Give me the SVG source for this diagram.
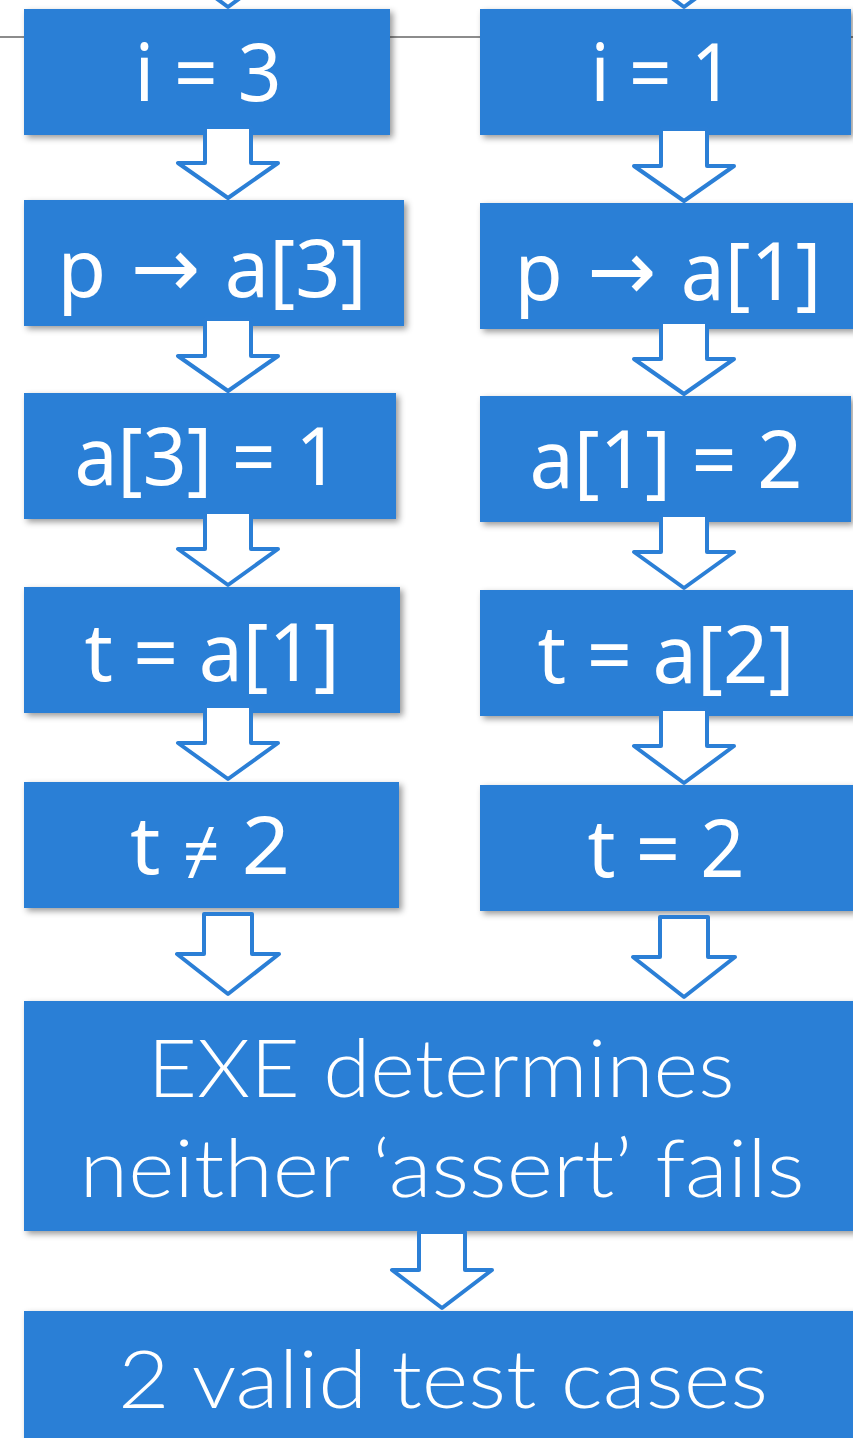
<svg xmlns="http://www.w3.org/2000/svg" width="853" height="1438" viewBox="0 0 853 1438">
  <defs>
    <filter id="shadow" x="-10%" y="-10%" width="125%" height="130%">
      <feDropShadow dx="3" dy="3" stdDeviation="3" flood-color="#000" flood-opacity="0.4"/>
    </filter>
  </defs>
  <style>
    .box { fill: #2b7fd6; filter: url(#shadow); }
    .lbl { fill: #ffffff; font-family: "Noto Sans", "Open Sans", sans-serif; font-size: 80px; text-anchor: middle; }
    .sym { font-family: "DejaVu Sans", sans-serif; font-size: 84px; }
    .neq { font-size: 62px; }
    .big { fill: #ffffff; font-family: "Lato", "Noto Sans", sans-serif; font-weight: 300; font-size: 80px; text-anchor: middle; }
    .arrow { fill: #ffffff; stroke: #2b7fd6; stroke-width: 4; stroke-linejoin: round; }
    .rule { stroke: #8c8c8c; stroke-width: 2; }
  </style>

  <rect width="853" height="1438" fill="#ffffff"/>
  <line class="rule" x1="0" y1="37" x2="853" y2="37"/>

  <!-- left column -->
  <g id="n-i3"><rect class="box" x="24" y="9" width="366" height="126"/><text class="lbl" x="208" y="101" textLength="147" lengthAdjust="spacingAndGlyphs">i = 3</text></g>
  <g id="n-p3"><rect class="box" x="24" y="200" width="380" height="126"/><text class="lbl" x="212" y="297" textLength="309" lengthAdjust="spacingAndGlyphs">p <tspan class="sym" dx="4">→</tspan><tspan dx="4"> a[3]</tspan></text></g>
  <g id="n-a3"><rect class="box" x="24" y="393" width="372" height="126"/><text class="lbl" x="207" y="485" textLength="265" lengthAdjust="spacingAndGlyphs">a[3] = 1</text></g>
  <g id="n-t1"><rect class="box" x="24" y="587" width="376" height="126"/><text class="lbl" x="212" y="681" textLength="255" lengthAdjust="spacingAndGlyphs">t = a[1]</text></g>
  <g id="n-tne"><rect class="box" x="24" y="782" width="375" height="126"/><text class="lbl" x="210" y="874" textLength="160" lengthAdjust="spacingAndGlyphs">t <tspan class="neq">≠</tspan> 2</text></g>

  <!-- right column -->
  <g id="n-i1"><rect class="box" x="480" y="9" width="371" height="126"/><text class="lbl" x="662" y="101" textLength="143" lengthAdjust="spacingAndGlyphs">i = 1</text></g>
  <g id="n-p1"><rect class="box" x="480" y="203" width="375" height="126"/><text class="lbl" x="668" y="300" textLength="307" lengthAdjust="spacingAndGlyphs">p <tspan class="sym" dx="4">→</tspan><tspan dx="4"> a[1]</tspan></text></g>
  <g id="n-a1"><rect class="box" x="480" y="396" width="371" height="126"/><text class="lbl" x="666" y="488" textLength="273" lengthAdjust="spacingAndGlyphs">a[1] = 2</text></g>
  <g id="n-t2"><rect class="box" x="480" y="590" width="375" height="126"/><text class="lbl" x="666" y="683" textLength="257" lengthAdjust="spacingAndGlyphs">t = a[2]</text></g>
  <g id="n-teq"><rect class="box" x="480" y="785" width="375" height="126"/><text class="lbl" x="666" y="877" textLength="157" lengthAdjust="spacingAndGlyphs">t = 2</text></g>

  <!-- merged steps -->
  <g id="n-exe"><rect class="box" x="24" y="1001" width="835" height="230"/>
    <text class="big" x="441" y="1097" textLength="587" lengthAdjust="spacingAndGlyphs">EXE determines</text>
    <text class="big" x="442" y="1197" textLength="725" lengthAdjust="spacingAndGlyphs">neither ‘assert’ fails</text>
  </g>
  <g id="n-valid"><rect class="box" x="24" y="1311" width="835" height="140"/>
    <text class="big" x="443" y="1408" textLength="650" lengthAdjust="spacingAndGlyphs">2 valid test cases</text>
  </g>

  <!-- block arrows between steps -->
  <g id="connectors">
    <path class="arrow" d="M178,-30 L228,7 L278,-30"/>
    <path class="arrow" d="M634,-30 L684,7 L734,-30"/>

    <path class="arrow" d="M205,127 H251 V163 H278 L228,198 L178,163 H205 Z"/>
    <path class="arrow" d="M205,319 H251 V356 H278 L228,391 L178,356 H205 Z"/>
    <path class="arrow" d="M205,512 H251 V549 H278 L228,585 L178,549 H205 Z"/>
    <path class="arrow" d="M205,706 H251 V743 H278 L228,779 L178,743 H205 Z"/>
    <path class="arrow" d="M204,914 H252 V954 H279 L228,994 L177,954 H204 Z"/>

    <path class="arrow" d="M661,129 H707 V166 H734 L684,201 L634,166 H661 Z"/>
    <path class="arrow" d="M661,322 H707 V359 H734 L684,394 L634,359 H661 Z"/>
    <path class="arrow" d="M661,515 H707 V552 H734 L684,588 L634,552 H661 Z"/>
    <path class="arrow" d="M661,709 H707 V746 H734 L684,783 L634,746 H661 Z"/>
    <path class="arrow" d="M660,917 H708 V957 H735 L684,997 L633,957 H660 Z"/>

    <path class="arrow" d="M419,1232 H465 V1270 H492 L442,1308 L392,1270 H419 Z"/>
  </g>
</svg>
